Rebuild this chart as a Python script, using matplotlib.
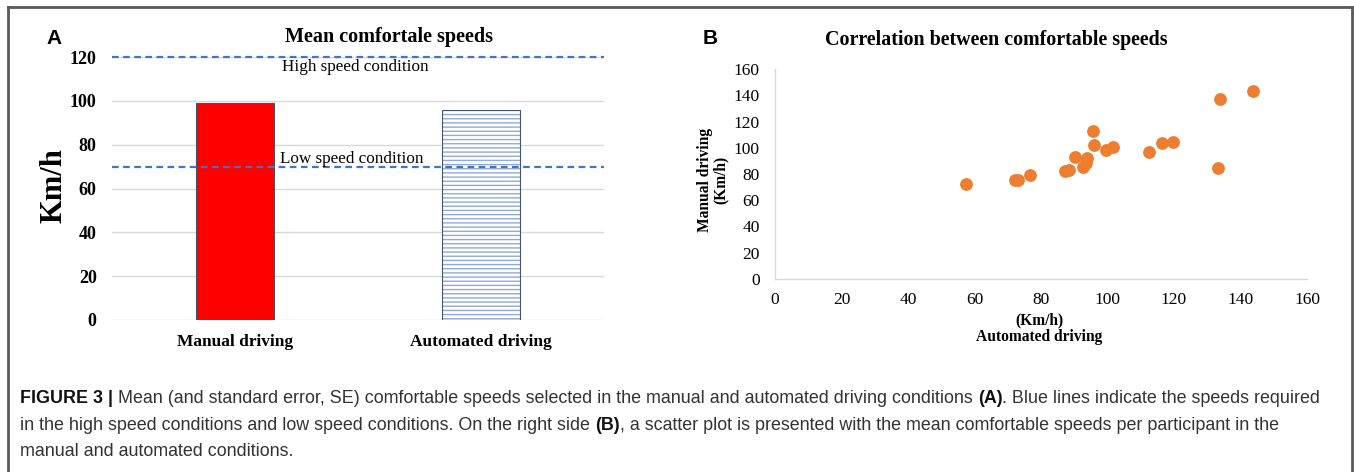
import matplotlib
matplotlib.use('Agg')
import matplotlib.pyplot as plt
from matplotlib.lines import Line2D

# figure size in pixels
W, H = 1354, 472

# panel A data
categories = ['Manual driving', 'Automated driving']
mean_speeds = [98.9, 95.7]
high_speed = 120
low_speed = 70
left_yticks = [0, 20, 40, 60, 80, 100, 120]

# panel B data (automated, manual) per participant
automated = [57.4, 72.1, 73.1, 76.6, 87.3, 88.5, 90.1, 92.5, 93.4, 93.8, 95.7, 96.0,
             99.4, 101.8, 112.5, 116.5, 119.7, 133.1, 133.7, 143.7]
manual = [72.4, 75.2, 75.7, 79.0, 82.0, 83.0, 92.9, 85.0, 88.5, 92.4, 112.7, 101.8,
          98.2, 100.8, 97.0, 104.0, 104.6, 84.8, 137.0, 143.5]
right_ticks = [0, 20, 40, 60, 80, 100, 120, 140, 160]

caption_lines = [
    [('FIGURE 3 |', 'bold'),
     (' Mean (and standard error, SE) comfortable speeds selected in the manual and automated driving conditions ', 'normal'),
     ('(A)', 'bold'),
     ('. Blue lines indicate the speeds required', 'normal')],
    [('in the high speed conditions and low speed conditions. On the right side ', 'normal'),
     ('(B)', 'bold'),
     (', a scatter plot is presented with the mean comfortable speeds per participant in the', 'normal')],
    [('manual and automated conditions.', 'normal')],
]

SERIF = 'Liberation Serif'
SANS = 'Liberation Sans'


def fx(px):
    return px / W


def fy(py):
    return 1 - py / H


fig = plt.figure(figsize=(W / 100, H / 100), dpi=100)

# outer frame
frame_color = '#5a5a5a'
fig.add_artist(Line2D([fx(8), fx(8)], [fy(7), fy(472)], color=frame_color, lw=2))
fig.add_artist(Line2D([fx(8), fx(1352)], [fy(7), fy(7)], color=frame_color, lw=2))
fig.add_artist(Line2D([fx(1352), fx(1352)], [fy(7), fy(472)], color=frame_color, lw=2))

# ---- panel A ----
ax1 = fig.add_axes([fx(112), fy(320), fx(604) - fx(112), fy(57) - fy(320)])
x = [0, 1]
ax1.bar(x[0], mean_speeds[0], width=0.32, color='#FF0000', edgecolor='#44546A', linewidth=0.8, zorder=3)
plt.rcParams['hatch.linewidth'] = 1.0
ax1.bar(x[1], mean_speeds[1], width=0.32, color='white', edgecolor='#8FAADC', hatch='----',
        linewidth=0, zorder=3)
ax1.bar(x[1], mean_speeds[1], width=0.32, fill=False, edgecolor='#44546A', linewidth=0.8, zorder=4)
ax1.axhline(high_speed, color='#4472C4', lw=1.6, ls=(0, (3, 2)), zorder=5, clip_on=False)
ax1.axhline(low_speed, color='#4472C4', lw=1.6, ls=(0, (3, 2)), zorder=5, clip_on=False)
ax1.set_xlim(-0.5, 1.5)
ax1.set_ylim(0, 120)
ax1.set_yticks(left_yticks)
ax1.set_xticks(x)
ax1.set_xticklabels(categories)
ax1.grid(axis='y', color='#D9D9D9', lw=1, zorder=0)
for s in ax1.spines.values():
    s.set_visible(False)
ax1.tick_params(axis='y', length=0, pad=11)
ax1.tick_params(axis='x', length=0, pad=10)
for lab in ax1.get_yticklabels():
    lab.set_fontfamily(SERIF)
    lab.set_fontweight('bold')
    lab.set_fontsize(13)
for lab in ax1.get_xticklabels():
    lab.set_fontfamily(SERIF)
    lab.set_fontweight('bold')
    lab.set_fontsize(12.5)

fig.text(fx(389), fy(37), 'Mean comfortale speeds', family=SERIF, weight='bold', fontsize=14.5,
         ha='center', va='center')
fig.text(fx(54), fy(39), 'A', family=SANS, weight='bold', fontsize=15, ha='center', va='center')
fig.text(fx(54), fy(186), 'Km/h', family=SERIF, weight='bold', fontsize=22, rotation=90,
         ha='center', va='center')
fig.text(fx(355), fy(67), 'High speed condition', family=SERIF, fontsize=12.3, ha='center', va='center')
fig.text(fx(352), fy(159), 'Low speed condition', family=SERIF, fontsize=12.3, ha='center', va='center')

# ---- panel B ----
ax2 = fig.add_axes([fx(775), fy(279), fx(1307) - fx(775), fy(69) - fy(279)])
ax2.scatter(automated, manual, s=85, color='#ED7D31', zorder=3, linewidths=0)
ax2.set_xlim(0, 160)
ax2.set_ylim(0, 160)
ax2.set_xticks(right_ticks)
ax2.set_yticks(right_ticks)
for side in ['top', 'right']:
    ax2.spines[side].set_visible(False)
for side in ['left', 'bottom']:
    ax2.spines[side].set_color('#D9D9D9')
    ax2.spines[side].set_linewidth(1)
ax2.tick_params(axis='y', length=0, pad=11)
ax2.tick_params(axis='x', length=0, pad=9.5)
for lab in ax2.get_xticklabels() + ax2.get_yticklabels():
    lab.set_fontfamily(SERIF)
    lab.set_fontsize(12.5)

fig.text(fx(996), fy(40), 'Correlation between comfortable speeds', family=SERIF, weight='bold',
         fontsize=14.4, ha='center', va='center')
fig.text(fx(710), fy(38), 'B', family=SANS, weight='bold', fontsize=15, ha='center', va='center')
fig.text(fx(713), fy(180), 'Manual driving\n(Km/h)', family=SERIF, weight='bold', fontsize=11.2,
         rotation=90, ha='center', va='center', linespacing=1.0)
fig.text(fx(1039), fy(329), '(Km/h)\nAutomated driving', family=SERIF, weight='bold', fontsize=11.2,
         ha='center', va='center', linespacing=1.05)

# ---- caption ----
renderer = fig.canvas.get_renderer()
baselines = [403, 430, 456]
for line, base in zip(caption_lines, baselines):
    xpos = 20
    for txt, weight in line:
        color = '#111111' if weight == 'bold' else '#333333'
        t = fig.text(fx(xpos), fy(base), txt, family=SANS, weight=weight, fontsize=12.9,
                     color=color, ha='left', va='baseline')
        bb = t.get_window_extent(renderer=renderer)
        xpos += bb.width

fig.savefig('out.png', dpi=100)
